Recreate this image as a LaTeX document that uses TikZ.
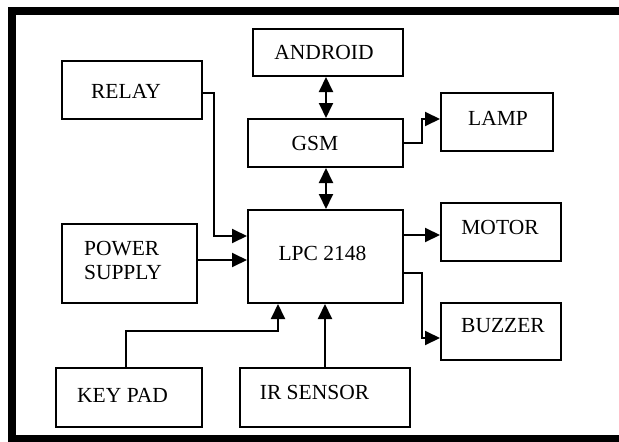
\documentclass[tikz,border=0pt]{standalone}
\usepackage{fontspec}
\setmainfont{Liberation Serif}
\usetikzlibrary{arrows.meta}
\begin{document}
\begin{tikzpicture}[x=1pt,y=-1pt,
  box/.style={draw, line width=2pt, inner sep=0pt, rectangle},
  lbl/.style={inner sep=0pt, font=\fontsize{21.5}{24}\selectfont},
  tip/.tip={Triangle[length=15pt,width=14pt]},
  arr/.style={line width=2pt, -tip},
  darr/.style={line width=2pt, tip-tip}]
\useasboundingbox (0,0) rectangle (619,442);
\clip (0,0) rectangle (619,442);
% frame
\draw[line width=8pt] (650,11) -- (12,11) -- (12,439) -- (650,439);
% boxes
\node[box, minimum width=150pt, minimum height=47pt,
  label={[lbl,xshift=-4pt]center:ANDROID}] (android) at (328,52.5) {};
\node[box, minimum width=140pt, minimum height=58pt,
  label={[lbl,xshift=-6pt,yshift=-1.5pt]center:RELAY}] (relay) at (132,90) {};
\node[box, minimum width=155pt, minimum height=48pt,
  label={[lbl,xshift=-10.5pt]center:GSM}] (gsm) at (325.5,143) {};
\node[box, minimum width=112pt, minimum height=58pt,
  label={[lbl,xshift=1pt,yshift=4pt]center:LAMP}] (lamp) at (497,122) {};
\node[box, minimum width=155pt, minimum height=93pt,
  label={[lbl,xshift=-3pt,yshift=3pt]center:LPC 2148}] (lpc) at (325.5,256.5) {};
\node[box, minimum width=120pt, minimum height=58pt,
  label={[lbl,xshift=-1pt,yshift=5pt]center:MOTOR}] (motor) at (501,232) {};
\node[box, minimum width=135pt, minimum height=79pt,
  label={[lbl,align=left,xshift=-6.5pt,yshift=3.5pt]center:POWER\\SUPPLY}] (power) at (129.5,263.5) {};
\node[box, minimum width=120pt, minimum height=57pt,
  label={[lbl,xshift=2pt,yshift=6pt]center:BUZZER}] (buzzer) at (501,331.5) {};
\node[box, minimum width=146pt, minimum height=59pt,
  label={[lbl,xshift=-6.5pt,yshift=2.5pt]center:KEY PAD}] (keypad) at (129,397.5) {};
\node[box, minimum width=170pt, minimum height=59pt,
  label={[lbl,xshift=-10.5pt,yshift=5pt]center:IR SENSOR}] (ir) at (325,397.5) {};
% connectors
\draw[darr] ([xshift=0.5pt]gsm.north) -- ([xshift=0.5pt]gsm.north |- android.south);
\draw[darr] ([xshift=0.5pt]lpc.north) -- ([xshift=0.5pt]gsm.south);
\draw[arr] (gsm.east) -- ++(18,0) |- ([yshift=3pt]lamp.west);
\draw[arr] ([yshift=-3pt]relay.east) -- ++(11,0) |- ([yshift=20.5pt]lpc.west);
\draw[arr] ([yshift=3.5pt]power.east) -- ([yshift=3.5pt]power.east -| lpc.west);
\draw[arr] ([yshift=-3pt]motor.west -| lpc.east) -- ([yshift=-3pt]motor.west);
\draw[arr] ([yshift=-16.5pt]lpc.east) -- ++(18,0) |- ([yshift=-6.5pt]buzzer.west);
\draw[arr] ([xshift=-3pt]keypad.north) -- ++(0,-36) -| ([xshift=-47.5pt]lpc.south);
\draw[arr] (ir.north) -- (ir.north |- lpc.south);
\end{tikzpicture}
\end{document}
